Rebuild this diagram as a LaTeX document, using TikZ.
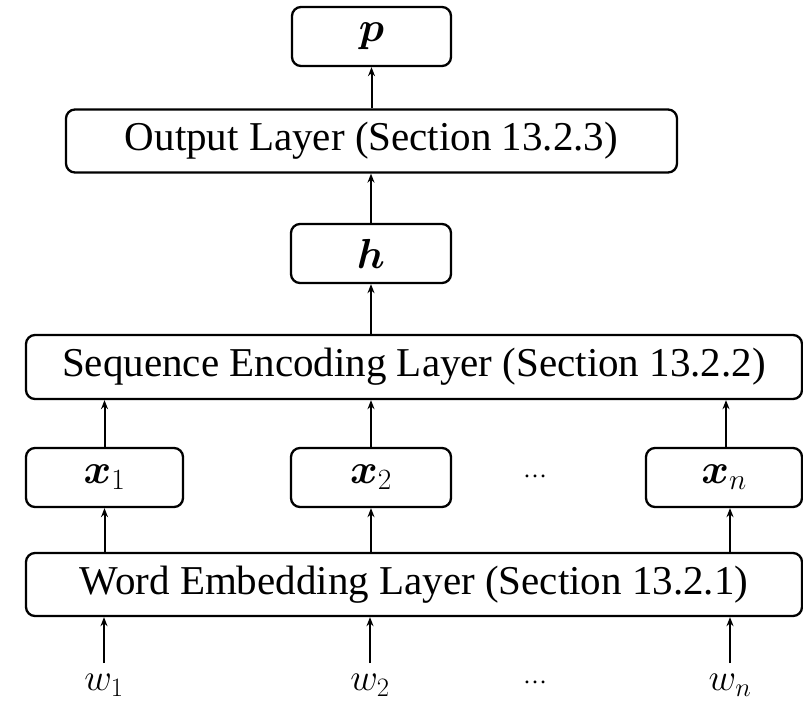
\RequirePackage{fix-cm}
\documentclass[tikz,border=0pt]{standalone}
\usepackage{amsmath}
\usepackage{fontspec}
\usepackage{bm}
\setmainfont{Liberation Serif}
\usetikzlibrary{arrows.meta}
\begin{document}
\begin{tikzpicture}[x=1pt,y=-1pt,
  layer/.style={draw, line width=2.3pt, rounded corners=9pt, inner sep=0pt,
    minimum height=63pt, font=\fontsize{41}{49}\selectfont},
  vecbox/.style={draw, line width=2.3pt, rounded corners=9pt, inner sep=0pt,
    minimum width=158pt, minimum height=59pt, font=\fontsize{42}{50}\selectfont},
  arr/.style={line width=2pt, -{Stealth[length=9pt,width=7pt]}},
  token/.style={inner sep=0pt, outer ysep=11pt, font=\fontsize{38}{46}\selectfont},
  gap/.style={inner sep=0pt, font=\fontsize{24}{28}\selectfont}]
\useasboundingbox (0,0) rectangle (803,702);

% upper stack
\node[vecbox, minimum width=159pt] (p) at (371.5,36.5) {$\bm{p}$};
\node[layer, minimum width=611pt] (out) at (371.5,141) {Output Layer (Section 13.2.3)};
\node[vecbox, minimum width=160pt] (h) at (371,253.5) {$\bm{h}$};
\node[layer, minimum width=776pt, minimum height=64pt] (seq) at (414,367)
  {Sequence Encoding Layer (Section 13.2.2)};

% per-token vectors
\node[vecbox, minimum width=157pt] (x1) at (104.5,477.5) {$\bm{x}_1$};
\node[vecbox, minimum width=160pt] (x2) at (371,477.5) {$\bm{x}_2$};
\node[vecbox, minimum width=156pt] (xn) at (724,477.5) {$\bm{x}_n$};
\node[gap] (dx) at (535,476) {…};
\coordinate (xnup) at ([xshift=2pt]xn.north);

% embedding layer and input words
\node[layer, minimum width=776pt] (emb) at (414,584.5) {Word Embedding Layer (Section 13.2.1)};
\node[token, anchor=north] (w1) at (104,663) {$w_1$};
\node[token, anchor=north] (w2) at (370,663) {$w_2$};
\node[token, anchor=north] (wn) at (730,663) {$w_n$};
\node[gap] (dw) at (535,682) {…};

% connectors
\draw[arr] (out.north -| p) -- (p.south);
\draw[arr] (h.north) -- (out.south -| h);
\draw[arr] (seq.north -| h) -- (h.south);
\draw[arr] (x1.north) -- (seq.south -| x1);
\draw[arr] (x2.north) -- (seq.south -| x2);
\draw[arr] (xnup) -- (seq.south -| xnup);
\draw[arr] (emb.north -| x1) -- (x1.south);
\draw[arr] (emb.north -| x2) -- (x2.south);
\draw[arr] (emb.north -| wn) -- (xn.south -| wn);
\draw[arr] (w1.north) -- (emb.south -| w1);
\draw[arr] (w2.north) -- (emb.south -| w2);
\draw[arr] (wn.north) -- (emb.south -| wn);
\end{tikzpicture}
\end{document}
